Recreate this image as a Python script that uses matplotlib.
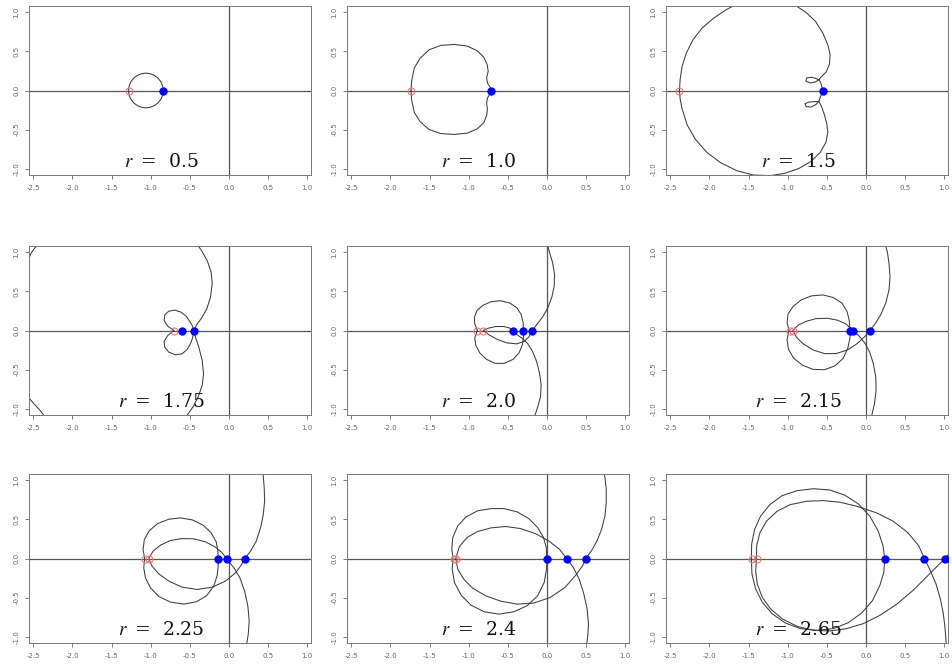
import numpy as np
import matplotlib
matplotlib.use("Agg")
from matplotlib import pyplot as plt

plt.rcParams['axes.unicode_minus'] = False
plt.rcParams['mathtext.fontset'] = 'custom'
plt.rcParams['mathtext.it'] = 'STIXGeneral:italic'
plt.rcParams['mathtext.rm'] = 'DejaVu Serif'

# ---- curves, (x, y) in data units ----
# r = 0.5
r050_loop = [(-0.839, 0), (-0.847, 0.057), (-0.869, 0.111), (-0.904, 0.157), (-0.950, 0.192),
             (-1.004, 0.214), (-1.061, 0.222), (-1.118, 0.214), (-1.172, 0.192), (-1.218, 0.157),
             (-1.253, 0.111), (-1.275, 0.057), (-1.283, 0), (-1.275, -0.057), (-1.253, -0.111),
             (-1.218, -0.157), (-1.172, -0.192), (-1.118, -0.214), (-1.061, -0.222), (-1.004, -0.214),
             (-0.950, -0.192), (-0.904, -0.157), (-0.869, -0.111), (-0.847, -0.057), (-0.839, 0)]

# r = 1.0
r100_upper = [(-1.737, 0), (-1.729, 0.119), (-1.695, 0.288), (-1.619, 0.415), (-1.504, 0.521),
              (-1.356, 0.576), (-1.186, 0.589), (-1.017, 0.568), (-0.890, 0.508), (-0.805, 0.424),
              (-0.763, 0.331), (-0.750, 0.246), (-0.771, 0.161), (-0.758, 0.093), (-0.725, 0.042),
              (-0.708, 0)]
r100_lower = [(-1.737, 0), (-1.729, -0.119), (-1.695, -0.280), (-1.619, -0.400), (-1.504, -0.500),
              (-1.356, -0.550), (-1.186, -0.562), (-1.017, -0.545), (-0.890, -0.490), (-0.805, -0.410),
              (-0.770, -0.320), (-0.760, -0.240), (-0.771, -0.160), (-0.758, -0.093), (-0.725, -0.042),
              (-0.708, 0)]

# r = 1.5
r150_upper = [(-2.383, 0), (-2.374, 0.143), (-2.349, 0.312), (-2.294, 0.481), (-2.209, 0.650),
              (-2.095, 0.797), (-1.947, 0.924), (-1.777, 1.038), (-1.608, 1.122), (-1.397, 1.177),
              (-1.185, 1.190), (-1.016, 1.143), (-0.889, 1.080), (-0.762, 0.996), (-0.643, 0.882),
              (-0.550, 0.734), (-0.487, 0.586), (-0.457, 0.460), (-0.466, 0.333), (-0.508, 0.236),
              (-0.559, 0.186), (-0.597, 0.143), (-0.643, 0.110), (-0.711, 0.097), (-0.766, 0.118),
              (-0.758, 0.160), (-0.694, 0.169), (-0.631, 0.152), (-0.592, 0.131), (-0.571, 0.080),
              (-0.550, 0)]
r150_lower = [(-0.550, 0), (-0.576, -0.068), (-0.597, -0.127), (-0.635, -0.177), (-0.698, -0.211),
              (-0.762, -0.207), (-0.779, -0.169), (-0.728, -0.148), (-0.656, -0.143), (-0.601, -0.139),
              (-0.567, -0.203), (-0.533, -0.300), (-0.499, -0.426), (-0.487, -0.532), (-0.508, -0.658),
              (-0.584, -0.793), (-0.698, -0.903), (-0.855, -0.996), (-1.037, -1.059), (-1.227, -1.089),
              (-1.439, -1.080), (-1.650, -1.025), (-1.854, -0.924), (-2.031, -0.793), (-2.179, -0.624),
              (-2.285, -0.439), (-2.349, -0.236), (-2.374, -0.110), (-2.383, 0)]

# r = 1.75
r175_lobe_up = [(-0.704, 0), (-0.781, 0.055), (-0.828, 0.128), (-0.819, 0.200), (-0.768, 0.247),
                (-0.691, 0.260), (-0.610, 0.234), (-0.542, 0.179), (-0.499, 0.115), (-0.469, 0.064),
                (-0.444, 0)]
r175_lobe_dn = [(-0.704, 0), (-0.781, -0.064), (-0.828, -0.140), (-0.819, -0.213), (-0.768, -0.277),
                (-0.683, -0.311), (-0.598, -0.298), (-0.534, -0.243), (-0.491, -0.170), (-0.465, -0.098),
                (-0.444, 0)]
r175_arc_up = [(-0.444, 0), (-0.414, 0.072), (-0.350, 0.157), (-0.282, 0.277), (-0.235, 0.426),
               (-0.213, 0.596), (-0.226, 0.745), (-0.277, 0.894), (-0.350, 1.021), (-0.405, 1.106)]
r175_arc_dn = [(-0.444, 0), (-0.427, -0.085), (-0.384, -0.213), (-0.341, -0.383), (-0.324, -0.553),
               (-0.341, -0.702), (-0.393, -0.851), (-0.461, -0.979), (-0.534, -1.085)]
r175_corner_up = [(-2.561, 0.915), (-2.527, 0.991), (-2.484, 1.051), (-2.433, 1.106)]
r175_corner_dn = [(-2.561, -0.855), (-2.493, -0.936), (-2.424, -1.009), (-2.364, -1.085)]

# r = 2.0
r200_lobe_up = [(-0.888, 0), (-0.922, 0.086), (-0.926, 0.171), (-0.892, 0.257), (-0.819, 0.321),
                (-0.713, 0.368), (-0.593, 0.381), (-0.474, 0.351), (-0.384, 0.291), (-0.329, 0.206),
                (-0.303, 0.099), (-0.299, 0)]
r200_lobe_dn = [(-0.888, 0), (-0.922, -0.094), (-0.909, -0.188), (-0.858, -0.287), (-0.773, -0.368),
                (-0.662, -0.420), (-0.542, -0.420), (-0.431, -0.368), (-0.354, -0.283), (-0.312, -0.180),
                (-0.299, -0.086), (-0.299, 0)]
r200_inner_up = [(-0.811, 0), (-0.747, 0.030), (-0.653, 0.051), (-0.555, 0.051), (-0.482, 0.034),
                 (-0.435, 0)]
r200_arc_dn = [(-0.435, 0), (-0.384, -0.051), (-0.312, -0.103), (-0.243, -0.171), (-0.184, -0.266),
               (-0.132, -0.394), (-0.094, -0.544), (-0.073, -0.694), (-0.081, -0.844), (-0.115, -0.972),
               (-0.158, -1.101)]
r200_inner_dn = [(-0.811, 0), (-0.747, -0.051), (-0.640, -0.111), (-0.512, -0.158), (-0.384, -0.171),
                 (-0.286, -0.137), (-0.226, -0.077), (-0.188, 0)]
r200_arc_up = [(-0.188, 0), (-0.128, 0.077), (-0.055, 0.171), (0.013, 0.291), (0.064, 0.428),
               (0.094, 0.570), (0.098, 0.719), (0.073, 0.869), (0.034, 0.998), (0.004, 1.105)]

# r = 2.15
r215_lobe_up = [(-0.982, 0), (-1.007, 0.097), (-0.995, 0.211), (-0.931, 0.307), (-0.825, 0.392),
                (-0.698, 0.442), (-0.550, 0.455), (-0.415, 0.421), (-0.305, 0.349), (-0.241, 0.244),
                (-0.212, 0.126), (-0.203, 0)]
r215_lobe_dn = [(-0.982, 0), (-1.007, -0.114), (-0.990, -0.240), (-0.923, -0.354), (-0.813, -0.442),
                (-0.677, -0.497), (-0.529, -0.501), (-0.394, -0.451), (-0.288, -0.354), (-0.229, -0.219),
                (-0.203, -0.093), (-0.203, 0)]
r215_inner_up = [(-0.931, 0), (-0.868, 0.067), (-0.762, 0.118), (-0.635, 0.152), (-0.487, 0.156),
                 (-0.360, 0.131), (-0.254, 0.084), (-0.169, 0)]
r215_arc_dn = [(-0.169, 0), (-0.085, -0.072), (-0.008, -0.168), (0.051, -0.282), (0.097, -0.429),
               (0.127, -0.598), (0.131, -0.766), (0.110, -0.935), (0.076, -1.082)]
r215_inner_dn = [(-0.931, 0), (-0.889, -0.084), (-0.804, -0.168), (-0.677, -0.248), (-0.529, -0.295),
                 (-0.381, -0.295), (-0.233, -0.248), (-0.106, -0.164), (-0.008, -0.072), (0.051, 0)]
r215_arc_up = [(0.051, 0), (0.118, 0.084), (0.190, 0.202), (0.254, 0.349), (0.296, 0.518),
               (0.309, 0.686), (0.296, 0.855), (0.275, 1.002), (0.245, 1.107)]

# r = 2.25
r225_lobe_up = [(-1.076, 0), (-1.097, 0.115), (-1.080, 0.243), (-1.016, 0.357), (-0.909, 0.447),
                (-0.768, 0.502), (-0.619, 0.519), (-0.469, 0.494), (-0.329, 0.426), (-0.226, 0.328),
                (-0.162, 0.213), (-0.141, 0.102), (-0.137, 0)]
r225_lobe_dn = [(-1.076, 0), (-1.088, -0.119), (-1.067, -0.247), (-1.003, -0.374), (-0.896, -0.485),
                (-0.747, -0.557), (-0.576, -0.583), (-0.414, -0.553), (-0.286, -0.477), (-0.192, -0.353),
                (-0.149, -0.213), (-0.137, -0.098), (-0.137, 0)]
r225_inner_up = [(-1.024, 0), (-0.969, 0.094), (-0.875, 0.170), (-0.747, 0.230), (-0.598, 0.255),
                 (-0.448, 0.251), (-0.299, 0.213), (-0.171, 0.145), (-0.085, 0.072), (-0.030, 0)]
r225_arc_dn = [(-0.030, 0), (0.064, -0.119), (0.141, -0.247), (0.201, -0.417), (0.243, -0.609),
               (0.260, -0.800), (0.248, -0.970), (0.226, -1.098)]
r225_inner_dn = [(-1.024, 0), (-0.982, -0.098), (-0.896, -0.196), (-0.768, -0.289), (-0.598, -0.366),
                 (-0.405, -0.396), (-0.213, -0.366), (-0.043, -0.289), (0.085, -0.183), (0.158, -0.085),
                 (0.205, 0)]
r225_arc_up = [(0.205, 0), (0.277, 0.094), (0.350, 0.221), (0.405, 0.391), (0.440, 0.562),
               (0.457, 0.732), (0.452, 0.902), (0.440, 1.051), (0.431, 1.136)]

# r = 2.4
r240_lobe_up = [(-1.198, 0), (-1.215, 0.119), (-1.203, 0.268), (-1.139, 0.417), (-1.034, 0.532),
                (-0.886, 0.609), (-0.717, 0.638), (-0.549, 0.638), (-0.380, 0.596), (-0.232, 0.511),
                (-0.118, 0.396), (-0.042, 0.268), (-0.008, 0.140), (0, 0)]
r240_lobe_dn = [(-1.198, 0), (-1.211, -0.136), (-1.181, -0.306), (-1.097, -0.468), (-0.970, -0.596),
                (-0.802, -0.681), (-0.612, -0.711), (-0.422, -0.681), (-0.253, -0.604), (-0.118, -0.477),
                (-0.034, -0.306), (-0.004, -0.136), (0, 0)]
r240_inner_up = [(-1.165, 0), (-1.118, 0.153), (-1.021, 0.268), (-0.886, 0.345), (-0.717, 0.391),
                 (-0.527, 0.409), (-0.338, 0.383), (-0.148, 0.319), (0.021, 0.226), (0.160, 0.119),
                 (0.253, 0)]
r240_arc_dn = [(0.253, 0), (0.338, -0.115), (0.414, -0.264), (0.473, -0.455), (0.515, -0.647),
               (0.532, -0.838), (0.523, -0.987), (0.506, -1.115)]
r240_inner_dn = [(-1.165, 0), (-1.139, -0.136), (-1.063, -0.264), (-0.949, -0.379), (-0.781, -0.477),
                 (-0.591, -0.545), (-0.380, -0.583), (-0.169, -0.570), (0.042, -0.498), (0.232, -0.370),
                 (0.380, -0.200), (0.456, -0.094), (0.498, 0)]
r240_arc_up = [(0.498, 0), (0.570, 0.098), (0.641, 0.226), (0.700, 0.374), (0.743, 0.545),
               (0.759, 0.715), (0.759, 0.885), (0.743, 1.034), (0.726, 1.119)]

# r = 2.65
r265_lobe_up = [(-1.464, 0), (-1.460, 0.182), (-1.422, 0.372), (-1.346, 0.541), (-1.227, 0.689),
                (-1.071, 0.803), (-0.880, 0.867), (-0.669, 0.892), (-0.457, 0.875), (-0.267, 0.808),
                (-0.097, 0.698), (0.051, 0.541), (0.157, 0.351), (0.220, 0.161), (0.241, 0)]
r265_lobe_dn = [(-1.464, 0), (-1.456, -0.199), (-1.409, -0.389), (-1.325, -0.558), (-1.198, -0.706),
                (-1.028, -0.825), (-0.838, -0.896), (-0.626, -0.918), (-0.415, -0.896), (-0.224, -0.820),
                (-0.055, -0.698), (0.085, -0.537), (0.178, -0.347), (0.229, -0.178), (0.241, 0)]
r265_inner_up = [(-1.397, 0), (-1.397, 0.161), (-1.354, 0.330), (-1.270, 0.478), (-1.134, 0.605),
                 (-0.965, 0.689), (-0.753, 0.732), (-0.542, 0.740), (-0.330, 0.719), (-0.118, 0.668),
                 (0.135, 0.584), (0.347, 0.478), (0.537, 0.330), (0.677, 0.161), (0.749, 0)]
r265_arc_dn = [(0.749, 0), (0.825, -0.156), (0.897, -0.326), (0.952, -0.516), (0.990, -0.706),
               (1.011, -0.875), (1.024, -1.044), (1.033, -1.150)]
r265_inner_dn = [(-1.397, 0), (-1.409, -0.156), (-1.388, -0.326), (-1.325, -0.495), (-1.219, -0.643),
                 (-1.071, -0.770), (-0.880, -0.867), (-0.669, -0.918), (-0.457, -0.926), (-0.245, -0.896),
                 (-0.034, -0.833), (0.178, -0.727), (0.389, -0.588), (0.601, -0.410), (0.791, -0.220),
                 (0.918, -0.093), (1.016, 0)]
r265_arc_up = [(1.016, 0), (1.088, 0.097), (1.172, 0.245)]

r_labels = ["0.5", "1.0", "1.5", "1.75", "2.0", "2.15", "2.25", "2.4", "2.65"]

curves = [
    [r050_loop],
    [r100_upper, r100_lower],
    [r150_upper, r150_lower],
    [r175_lobe_up, r175_lobe_dn, r175_arc_up, r175_arc_dn, r175_corner_up, r175_corner_dn],
    [r200_lobe_up, r200_lobe_dn, r200_inner_up, r200_arc_dn, r200_inner_dn, r200_arc_up],
    [r215_lobe_up, r215_lobe_dn, r215_inner_up, r215_arc_dn, r215_inner_dn, r215_arc_up],
    [r225_lobe_up, r225_lobe_dn, r225_inner_up, r225_arc_dn, r225_inner_dn, r225_arc_up],
    [r240_lobe_up, r240_lobe_dn, r240_inner_up, r240_arc_dn, r240_inner_dn, r240_arc_up],
    [r265_lobe_up, r265_lobe_dn, r265_inner_up, r265_arc_dn, r265_inner_dn, r265_arc_up],
]

# points on the real axis
red_x = [[-1.283], [-1.737], [-2.383], [-0.704], [-0.888, -0.811],
         [-0.97, -0.93], [-1.067, -1.024], [-1.190, -1.165], [-1.452, -1.397]]
blue_x = [[-0.839], [-0.708], [-0.550], [-0.598, -0.444], [-0.435, -0.299, -0.188],
          [-0.203, -0.169, 0.051], [-0.137, -0.030, 0.205], [0.0, 0.253, 0.498], [0.241, 0.749, 1.016]]

xticks = [-2.5, -2.0, -1.5, -1.0, -0.5, 0.0, 0.5, 1.0]
yticks = [-1.0, -0.5, 0.0, 0.5, 1.0]

W, H = 952, 668
fig = plt.figure(figsize=(W / 100, H / 100), dpi=100)
lefts = [29, 347, 666]
tops = [6, 246, 474]
bw, bh = 282, 169

for k in range(9):
    row, col = divmod(k, 3)
    ax = fig.add_axes([lefts[col] / W, 1 - (tops[row] + bh) / H, bw / W, bh / H])
    ax.axhline(0, color="#555555", lw=0.9, zorder=1)
    ax.axvline(0, color="#555555", lw=0.9, zorder=1)
    for seg in curves[k]:
        pts = np.array(seg)
        ax.plot(pts[:, 0], pts[:, 1], color="#3c3c3c", lw=0.75, zorder=2)
    ax.plot(red_x[k], np.zeros(len(red_x[k])), "o", mfc="none", mec="#f07878",
            ms=5, mew=0.8, zorder=3)
    ax.plot(blue_x[k], np.zeros(len(blue_x[k])), "o", color="#0000ff", ms=5, zorder=4)
    ax.text(-0.87, -0.91, r"$r\ \,=\ \ \mathrm{%s}$" % r_labels[k], ha="center", va="center",
            fontsize=13.5, color="#111111", zorder=5)

    ax.set_xlim(-2.555, 1.05)
    ax.set_ylim(-1.08, 1.08)
    ax.set_xticks(xticks)
    ax.set_xticklabels(["%.1f" % v for v in xticks])
    ax.set_yticks(yticks)
    ax.set_yticklabels(["%.1f" % v for v in yticks], rotation=90, va="center")
    ax.tick_params(length=3, width=0.6, colors="#666666", labelsize=5, pad=4)
    for s in ax.spines.values():
        s.set_color("#777777")
        s.set_linewidth(0.7)

fig.savefig("out.png", dpi=100)
